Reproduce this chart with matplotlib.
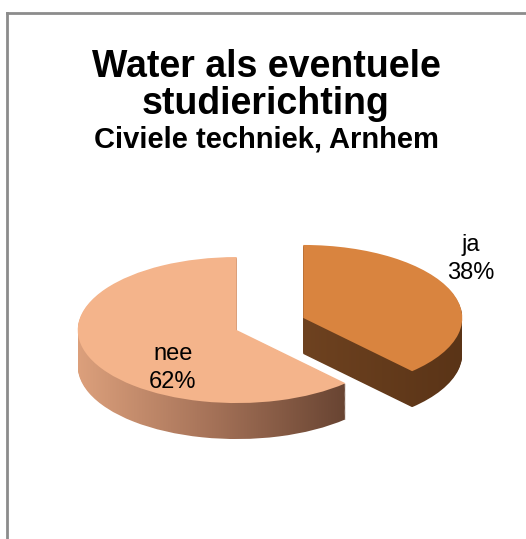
import matplotlib
matplotlib.use("Agg")
import matplotlib.pyplot as plt
import numpy as np
from matplotlib.colors import LinearSegmentedColormap
from matplotlib.lines import Line2D

plt.rcParams['font.family'] = ['Liberation Sans', 'DejaVu Sans']

# data
labels = ['ja', 'nee']
values = [38, 62]
top_colors = ['#d9843f', '#f4b48b']
side_colors = [['#6e4220', '#5a3417'], ['#dca07c', '#a57258', '#684432']]
explode = [0.225, 0.225]

W, H = 526, 539
fig = plt.figure(figsize=(W / 100, H / 100), dpi=100)
ax = fig.add_axes([0, 0, 1, 1])

# pixel scale of one data unit (squashed pie -> 3D look)
sx, sy = 159.0, 73.0
cx, cy = 270.0, 324.0          # pie centre, pixels from top-left
depth = 36 / sy
n_layers = 40

grad = np.linspace(0, 1, 256).reshape(1, -1)

# side of the pie: stack of pies shifted downwards, filled with a gradient
for k in range(n_layers, 0, -1):
    off = depth * k / n_layers
    wedges, _ = ax.pie(values, explode=explode, startangle=90, counterclock=False,
                       center=(0, -off), frame=True, wedgeprops=dict(linewidth=0))
    for w, cols in zip(wedges, side_colors):
        w.set_facecolor('none')
        bb = w.get_path().get_extents()
        cmap = LinearSegmentedColormap.from_list('side', cols)
        im = ax.imshow(grad, cmap=cmap, extent=(bb.x0, bb.x1, bb.y0, bb.y1),
                       aspect='auto', interpolation='bilinear', zorder=1)
        im.set_clip_path(w)

# top of the pie
tops, _ = ax.pie(values, explode=explode, startangle=90, counterclock=False,
                 colors=top_colors, frame=True, wedgeprops=dict(linewidth=0))
for w in tops:
    w.set_zorder(3)

ax.set_aspect('auto')
ax.set_xlim(-cx / sx, (W - cx) / sx)
ax.set_ylim(-(H - cy) / sy, cy / sy)
ax.axis('off')

# slice labels
label_pos = [(471, 259), (173, 368)]
for lab, v, (px, py) in zip(labels, values, label_pos):
    fig.text(px / W, 1 - py / H, f"{lab}\n{v}%", ha='center', va='center',
             fontsize=17, linespacing=1.3, color='black')

# title
fig.text(266 / W, 1 - 77 / H, "Water als eventuele", ha='center', va='baseline',
         fontsize=27, fontweight='bold')
fig.text(266 / W, 1 - 114 / H, "studierichting", ha='center', va='baseline',
         fontsize=27, fontweight='bold')
fig.text(266 / W, 1 - 147 / H, "Civiele techniek, Arnhem", ha='center', va='baseline',
         fontsize=21, fontweight='bold')

# chart frame (left and top edges)
fig.add_artist(Line2D([7 / W, 7 / W], [0, 1 - 13 / H], transform=fig.transFigure,
                      color='#8c8c8c', lw=2))
fig.add_artist(Line2D([7 / W, 1], [1 - 13 / H, 1 - 13 / H], transform=fig.transFigure,
                      color='#8c8c8c', lw=2))

fig.savefig('out.png', dpi=100)
